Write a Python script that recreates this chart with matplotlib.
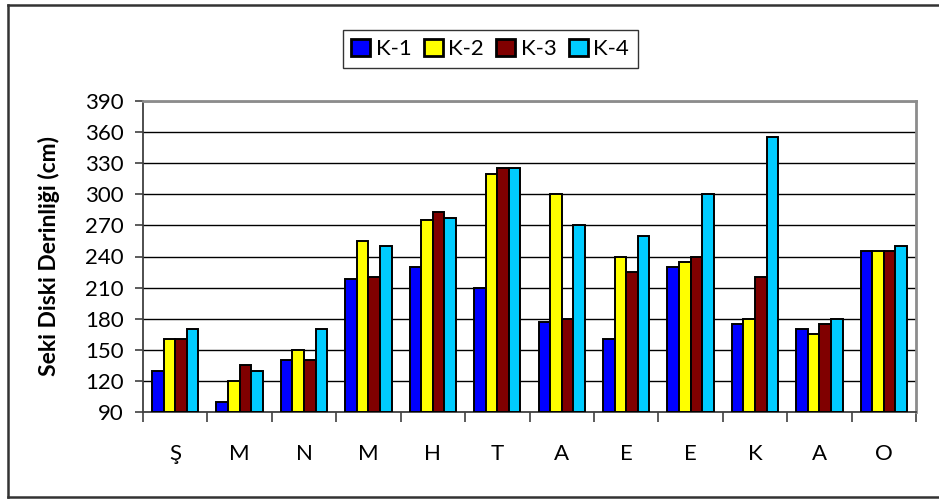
import matplotlib.pyplot as plt
import numpy as np
from matplotlib.lines import Line2D

# Monthly Secchi disk depth at four stations
months = ["Ş", "M", "N", "M", "H", "T", "A", "E", "E", "K", "A", "O"]
stations = ["K-1", "K-2", "K-3", "K-4"]
k1 = [130, 100, 140, 218, 230, 210, 177, 160, 230, 175, 170, 245]
k2 = [160, 120, 150, 255, 275, 320, 300, 240, 235, 180, 165, 245]
k3 = [160, 135, 140, 220, 283, 325, 180, 225, 240, 220, 175, 245]
k4 = [170, 130, 170, 250, 277, 325, 270, 260, 300, 355, 180, 250]
colors = ["#0000FF", "#FFFF00", "#800000", "#00CCFF"]
yticks = list(range(90, 391, 30))

plt.rcParams['font.family'] = ['Lato', 'DejaVu Sans']

fig = plt.figure(figsize=(9.39, 5.0), dpi=100)
ax = fig.add_axes([0.1523, 0.176, 0.8232, 0.622])

x = np.arange(len(months))
width = 0.18
series = [k1, k2, k3, k4]
handles = []
for i, vals in enumerate(series):
    offs = (i - 1.5) * width
    b = ax.bar(x + offs, np.array(vals) - 90, width, bottom=90,
               color=colors[i], edgecolor="black", linewidth=1.4,
               zorder=3, label=stations[i])
    handles.append(b)

ax.set_xlim(-0.5, len(months) - 0.5)
ax.set_ylim(90, 390)
ax.set_yticks(yticks)
ax.set_yticklabels([str(t) for t in yticks], fontsize=16)
ax.yaxis.grid(True, color="black", linewidth=1.0, zorder=0)
ax.set_axisbelow(True)

# category boundaries as major ticks, labels on minor ticks
ax.set_xticks(np.arange(-0.5, len(months), 1.0))
ax.set_xticklabels([])
ax.set_xticks(x, minor=True)
ax.set_xticklabels(months, minor=True, fontsize=16)
ax.tick_params(axis="x", which="major", length=7, width=1.2, color="#404040")
ax.tick_params(axis="x", which="minor", length=0, pad=23)
ax.tick_params(axis="y", length=6, width=1.2, color="#404040", pad=8)

for s in ["left", "bottom"]:
    ax.spines[s].set_color("#404040")
    ax.spines[s].set_linewidth(1.3)
for s in ["top", "right"]:
    ax.spines[s].set_color("#8c8c8c")
    ax.spines[s].set_linewidth(2.0)

ax.set_ylabel("Seki Diski Derinliği (cm)", fontsize=16.5, fontweight="bold")
ax.yaxis.set_label_coords(-0.108, 0.5)

leg = fig.legend(handles=handles, loc="center", bbox_to_anchor=(0.522, 0.902),
                 ncol=4, fontsize=16, frameon=True, fancybox=False,
                 handlelength=0.85, handleheight=0.85, handletextpad=0.25,
                 columnspacing=0.55, borderpad=0.4, borderaxespad=0)
leg.get_frame().set_edgecolor("black")
leg.get_frame().set_linewidth(1.0)
for h in leg.legend_handles:
    h.set_linewidth(2.0)

# outer chart frame
fl = 8 / 939
ft = 1 - 5 / 500
fb = 1 - 497 / 500
for xs, ys in [([fl, fl], [fb, ft]), ([fl, 1.0], [ft, ft]), ([fl, 1.0], [fb, fb])]:
    fig.add_artist(Line2D(xs, ys, transform=fig.transFigure,
                          color="#333333", linewidth=1.8))

fig.savefig("out.png", dpi=100)
